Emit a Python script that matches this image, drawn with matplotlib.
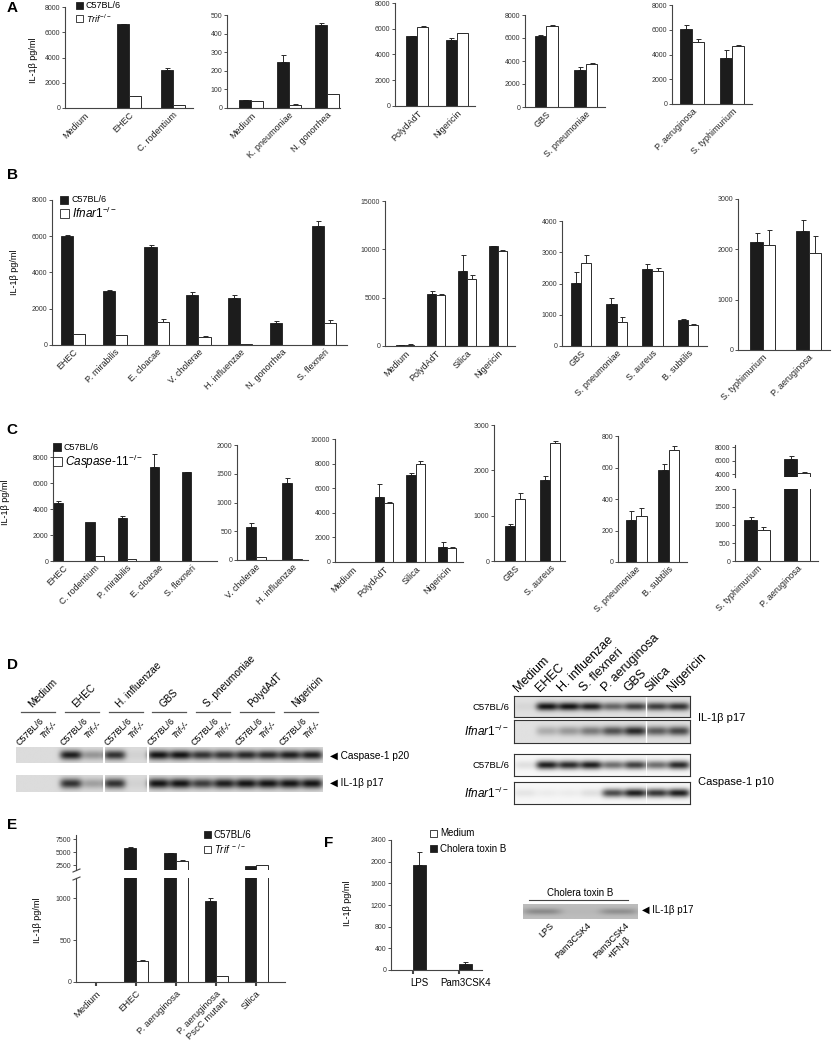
import numpy as np
import matplotlib
matplotlib.use('Agg')
import matplotlib.pyplot as plt
from matplotlib.patches import Rectangle
from matplotlib.lines import Line2D

plt.rcParams['font.family'] = ['Liberation Sans', 'DejaVu Sans']
plt.rcParams['mathtext.fontset'] = 'custom'
plt.rcParams['mathtext.rm'] = 'Liberation Sans'
plt.rcParams['mathtext.it'] = 'Liberation Sans:italic'

# ---------------- DATA ----------------
# Panel A (C57BL/6 black, Trif-/- white)
A1_cats = ['Medium', 'EHEC', 'C. rodentium']
A1_b = [30, 6650, 3000]; A1_be = [0, 30, 150]
A1_w = [30, 950, 230];   A1_we = [0, 30, 40]
A2_cats = ['Medium', 'K. pneumoniae', 'N. gonorrhea']
A2_b = [42, 245, 448]; A2_be = [3, 40, 8]
A2_w = [37, 18, 73];   A2_we = [2, 4, 2]
A3_cats = ['PolydAdT', 'Nigericin']
A3_b = [5400, 5100]; A3_be = [60, 180]
A3_w = [6150, 5650]; A3_we = [40, 30]
A4_cats = ['GBS', 'S. pneumoniae']
A4_b = [6150, 3250]; A4_be = [150, 200]
A4_w = [7050, 3750]; A4_we = [40, 100]
A5_cats = ['P. aeruginosa', 'S. typhimurium']
A5_b = [6050, 3750]; A5_be = [350, 650]
A5_w = [5050, 4700]; A5_we = [180, 50]

# Panel B (C57BL/6 black, Ifnar1-/- white)
B1_cats = ['EHEC', 'P. mirabilis', 'E. cloacae', 'V. cholerae', 'H. influenzae', 'N. gonorrhea', 'S. flexneri']
B1_b = [6020, 2980, 5410, 2750, 2620, 1230, 6570]; B1_be = [40, 60, 120, 200, 120, 120, 250]
B1_w = [590, 530, 1280, 440, 30, 0, 1190];        B1_we = [10, 10, 150, 30, 5, 0, 170]
B2_cats = ['Medium', 'PolydAdT', 'Silica', 'Nigericin']
B2_b = [100, 5400, 7750, 10300]; B2_be = [20, 340, 1700, 60]
B2_w = [150, 5300, 6950, 9800];  B2_we = [20, 60, 400, 100]
B3_cats = ['GBS', 'S. pneumoniae', 'S. aureus', 'B. subtilis']
B3_b = [2020, 1350, 2450, 840]; B3_be = [350, 200, 160, 20]
B3_w = [2650, 760, 2400, 670];  B3_we = [250, 170, 100, 20]
B4_cats = ['S. typhimurium', 'P. aeruginosa']
B4_b = [2150, 2360]; B4_be = [180, 220]
B4_w = [2080, 1930]; B4_we = [310, 330]

# Panel C (C57BL/6 black, Caspase-11-/- white)
C1_cats = ['EHEC', 'C. rodentium', 'P. mirabilis', 'E. cloacae', 'S. flexneri']
C1_b = [4450, 2980, 3300, 7200, 6830]; C1_be = [200, 0, 200, 1000, 40]
C1_w = [0, 420, 120, 0, 0];            C1_we = [0, 0, 0, 0, 0]
C2_cats = ['V. cholerae', 'H. influenzae']
C2_b = [575, 1340]; C2_be = [60, 90]
C2_w = [45, 15];    C2_we = [5, 3]
C3_cats = ['Medium', 'PolydAdT', 'Silica', 'Nigericin']
C3_b = [0, 5300, 7100, 1220]; C3_be = [0, 1050, 100, 400]
C3_w = [0, 4830, 7950, 1140]; C3_we = [0, 80, 300, 70]
C4_cats = ['GBS', 'S. aureus']
C4_b = [770, 1780];  C4_be = [40, 100]
C4_w = [1370, 2600]; C4_we = [130, 40]
C5_cats = ['S. pneumoniae', 'B. subtilis']
C5_b = [265, 585]; C5_be = [60, 40]
C5_w = [292, 712]; C5_we = [50, 25]
C6_cats = ['S. typhimurium', 'P. aeruginosa']
C6_b = [1135, 6300]; C6_be = [85, 350]
C6_w = [870, 4250];  C6_we = [80, 50]

# Panel D blots (band intensities, 0..1)
D_groups = ['Medium', 'EHEC', 'H. influenzae', 'GBS', 'S. pneumoniae', 'PolydAdT', 'Nigericin']
D_casp_p20 = [0, 0, 0.95, 0.35, 0.85, 0.05, 1, 1, 0.85, 0.85, 0.9, 0.9, 0.95, 0.95]
D_il1b_p17 = [0, 0, 0.85, 0.3, 0.85, 0.05, 1, 1, 0.8, 0.95, 1, 1, 1, 1]
D2_lanes = ['Medium', 'EHEC', 'H. influenzae', 'S. flexneri', 'P. aeruginosa', 'GBS', 'Silica', 'Nigericin']
D2_il1b_wt = [0.05, 1, 1, 0.95, 0.6, 0.8, 0.8, 0.85]
D2_il1b_ko = [0.0, 0.25, 0.35, 0.5, 0.7, 0.9, 0.65, 0.75]
D2_casp_wt = [0.1, 0.95, 0.9, 0.95, 0.6, 0.8, 0.6, 0.9]
D2_casp_ko = [0.08, 0.05, 0.05, 0.1, 0.75, 0.95, 0.85, 0.95]

# Panel E (C57BL/6 black, Trif-/- white)
E_cats = ['Medium', 'EHEC', 'P. aeruginosa', 'P. aeruginosa\nPscC mutant', 'Silica']
E_b = [0, 5850, 4750, 960, 2300]; E_be = [0, 60, 80, 40, 0]
E_w = [0, 255, 3250, 72, 2480];   E_we = [0, 10, 150, 0, 0]

# Panel F (Medium white, Cholera toxin B black)
F_cats = ['LPS', 'Pam3CSK4']
F_med = [0, 0];     F_med_e = [0, 0]
F_ctb = [1940, 110]; F_ctb_e = [230, 45]
F_blot_lanes = ['LPS', 'Pam3CSK4', 'Pam3CSK4\n+IFN-β']
F_blot = [0.5, 0.05, 0.45]

# ---------------- FIGURE ----------------
W, H = 832, 1050
fig = plt.figure(figsize=(W / 100, H / 100), dpi=100)
BLACK = '#1c1c1c'
EDGE = '#2a2a2a'
SP = '#444444'


def fx(x):
    return x / W


def fy(y):
    return 1 - y / H


def px_ax(x0, y0, x1, y1):
    ax = fig.add_axes([x0 / W, 1 - y1 / H, (x1 - x0) / W, (y1 - y0) / H])
    ax.patch.set_alpha(0)
    return ax


def draw_bars(ax, black, berr, white, werr, w, align='side'):
    x = np.arange(len(black))
    if align == 'side':
        xb, xw = x - w / 2, x + w / 2
    else:  # white left of center, black right of center
        xb, xw = x + w / 2, x - w / 2
    ax.bar(xb, black, w, color=BLACK, edgecolor=BLACK, lw=0.6, zorder=2)
    ax.bar(xw, white, w, color='white', edgecolor=EDGE, lw=0.7, zorder=2)
    for xs, vals, errs in ((xb, black, berr), (xw, white, werr)):
        for xi, v, e in zip(xs, vals, errs):
            if e > 0:
                ax.errorbar(xi, v, yerr=[[0], [e]], fmt='none', ecolor=EDGE,
                            elinewidth=0.7, capsize=1.8, capthick=0.7, zorder=1)


def style_ax(ax, ylim, yticks, xlim, hide_bottom=False):
    ax.set_xlim(xlim)
    ax.set_ylim(ylim)
    ax.set_yticks(yticks)
    ax.set_yticklabels([str(t) for t in yticks])
    ax.tick_params(axis='y', length=2, width=0.6, pad=1.5, labelsize=5, colors='#333333')
    ax.spines['top'].set_visible(False)
    ax.spines['right'].set_visible(False)
    for s in ('left', 'bottom'):
        ax.spines[s].set_linewidth(0.8)
        ax.spines[s].set_color(SP)
    if hide_bottom:
        ax.spines['bottom'].set_visible(False)
        ax.set_xticks([])


def set_cats(ax, cats, fs=6.5, length=0, width=0.6, pad=2):
    ax.set_xticks(np.arange(len(cats)))
    ax.set_xticklabels(cats, rotation=45, ha='right', rotation_mode='anchor', fontsize=fs)
    ax.tick_params(axis='x', length=length, width=width, pad=pad, colors=SP, labelcolor='#222222')


def bar_panel(box, cats, b, be, w_, we, ylim, yticks, xlim, w):
    ax = px_ax(*box)
    draw_bars(ax, b, be, w_, we, w)
    style_ax(ax, ylim, yticks, xlim)
    set_cats(ax, cats)
    return ax


def legend_sq(x, y, color, label, s=7, fs=6.5):
    fig.add_artist(Rectangle((fx(x), fy(y + s)), s / W, s / H, transform=fig.transFigure,
                             facecolor=color, edgecolor='#222222', lw=0.6))
    fig.text(fx(x + s + 3), fy(y + s / 2), label, fontsize=fs, va='center', ha='left')


def ylab(x, y, fs=6.5):
    fig.text(fx(x), fy(y), 'IL-1β pg/ml', rotation=90, fontsize=fs, ha='center', va='center')


def panel_letter(x, y, s):
    fig.text(fx(x), fy(y), s, fontsize=11, fontweight='bold', ha='center', va='center')


def blot(ax, vals, bg, dark=0.08, sx=0.5, sy=0.24, yc=0.5, border=False):
    n = len(vals)
    xs = np.linspace(-0.5, n - 0.5, 60 * n)
    ys = np.linspace(0, 1, 50)
    X, Y = np.meshgrid(xs, ys)
    img = np.full_like(X, bg)
    for k, v in enumerate(vals):
        img -= v * (bg - dark) * np.exp(-np.abs((X - k) / sx) ** 4) * np.exp(-((Y - yc) / sy) ** 2)
    ax.imshow(np.clip(img, 0, 1), cmap='gray', vmin=0, vmax=1, extent=(-0.5, n - 0.5, 0, 1),
              aspect='auto', interpolation='bilinear')
    ax.set_xticks([])
    ax.set_yticks([])
    for s in ax.spines.values():
        s.set_visible(border)
        s.set_linewidth(0.8)
        s.set_color('#333333')


# ---------------- PANEL A ----------------
panel_letter(12, 8, 'A')
bar_panel((65, 7, 193, 108), A1_cats, A1_b, A1_be, A1_w, A1_we, (0, 8000), [0, 2000, 4000, 6000, 8000], (-0.43, 2.45), 0.27)
bar_panel((227, 15, 340, 108), A2_cats, A2_b, A2_be, A2_w, A2_we, (0, 500), [0, 100, 200, 300, 400, 500], (-0.63, 2.34), 0.32)
bar_panel((395, 3, 475, 106), A3_cats, A3_b, A3_be, A3_w, A3_we, (0, 8000), [0, 2000, 4000, 6000, 8000], (-0.56, 1.46), 0.28)
bar_panel((525, 15, 605, 107), A4_cats, A4_b, A4_be, A4_w, A4_we, (0, 8000), [0, 2000, 4000, 6000, 8000], (-0.53, 1.48), 0.29)
bar_panel((672, 5, 752, 104), A5_cats, A5_b, A5_be, A5_w, A5_we, (0, 8000), [0, 2000, 4000, 6000, 8000], (-0.5, 1.5), 0.31)
ylab(33, 60)
legend_sq(76, 2, BLACK, 'C57BL/6')
legend_sq(76, 15, 'white', r'$\mathit{Trif}^{-/-}$')

# ---------------- PANEL B ----------------
panel_letter(12, 175, 'B')
bar_panel((52, 200, 347, 345), B1_cats, B1_b, B1_be, B1_w, B1_we, (0, 8000), [0, 2000, 4000, 6000, 8000], (-0.5, 6.55), 0.29)
bar_panel((385, 201, 515, 346), B2_cats, B2_b, B2_be, B2_w, B2_we, (0, 15000), [0, 5000, 10000, 15000], (-0.65, 3.55), 0.29)
bar_panel((562, 221, 707, 346), B3_cats, B3_b, B3_be, B3_w, B3_we, (0, 4000), [0, 1000, 2000, 3000, 4000], (-0.53, 3.53), 0.29)
bar_panel((738, 199, 830, 350), B4_cats, B4_b, B4_be, B4_w, B4_we, (0, 3000), [0, 1000, 2000, 3000], (-0.54, 1.46), 0.27)
ylab(15, 272)
legend_sq(60, 196, BLACK, 'C57BL/6', s=8)
legend_sq(60, 209, 'white', r'$\mathit{Ifnar1}^{-/-}$', s=9, fs=8.5)

# ---------------- PANEL C ----------------
panel_letter(12, 430, 'C')
bar_panel((53, 450, 217, 561), C1_cats, C1_b, C1_be, C1_w, C1_we, (0, 8540), [0, 2000, 4000, 6000, 8000], (-0.3, 4.8), 0.29)
bar_panel((237, 445, 308, 560), C2_cats, C2_b, C2_be, C2_w, C2_we, (0, 2000), [0, 500, 1000, 1500, 2000], (-0.53, 1.44), 0.28)
bar_panel((335, 439, 463, 562), C3_cats, C3_b, C3_be, C3_w, C3_we, (0, 10000), [0, 2000, 4000, 6000, 8000, 10000], (-0.55, 3.5), 0.29)
bar_panel((494, 425, 565, 561), C4_cats, C4_b, C4_be, C4_w, C4_we, (0, 3000), [0, 1000, 2000, 3000], (-0.6, 1.43), 0.29)
bar_panel((618, 436, 687, 562), C5_cats, C5_b, C5_be, C5_w, C5_we, (0, 800), [0, 200, 400, 600, 800], (-0.55, 1.55), 0.32)
# broken axis C6
axu = px_ax(735, 445, 818, 477)
draw_bars(axu, C6_b, C6_be, C6_w, C6_we, 0.32)
style_ax(axu, (3600, 8300), [4000, 6000, 8000], (-0.55, 1.52), hide_bottom=True)
axl = px_ax(735, 489, 818, 561)
draw_bars(axl, C6_b, C6_be, C6_w, C6_we, 0.32)
style_ax(axl, (0, 2000), [0, 500, 1000, 1500, 2000], (-0.55, 1.52))
set_cats(axl, C6_cats)
ylab(6, 502)
legend_sq(53, 443, BLACK, 'C57BL/6', s=8)
legend_sq(53, 457, 'white', r'$\mathit{Caspase}$-$\mathit{11}^{-/-}$', s=9, fs=8.5)

# ---------------- PANEL D ----------------
panel_letter(12, 665, 'D')
lane0, lanew = 27.0, 21.9
ax = px_ax(16, 747, 323, 763)
blot(ax, D_casp_p20, bg=0.86, sy=0.3)
for s in (3.5, 5.5):
    ax.axvline(s, color='white', lw=1.5)
ax = px_ax(16, 775, 323, 792)
blot(ax, D_il1b_p17, bg=0.86, sy=0.3)
for s in (3.5, 5.5):
    ax.axvline(s, color='white', lw=1.5)
for g, name in enumerate(D_groups):
    c = lane0 + lanew * (2 * g + 0.5)
    fig.add_artist(Line2D([fx(c - 17), fx(c + 17)], [fy(712), fy(712)], transform=fig.transFigure,
                          color='#555555', lw=0.9))
    fig.text(fx(c - 4), fy(709), name, rotation=45, rotation_mode='anchor', ha='left', va='bottom', fontsize=7.3)
    fig.text(fx(lane0 + lanew * 2 * g - 6), fy(747), 'C57BL/6', rotation=45, rotation_mode='anchor',
             ha='left', va='bottom', fontsize=6.5)
    fig.text(fx(lane0 + lanew * (2 * g + 1) - 4), fy(740), 'Trif-/-', rotation=45, rotation_mode='anchor',
             ha='left', va='bottom', fontsize=6.3, style='italic')
fig.text(fx(330), fy(756), '◀ Caspase-1 p20', fontsize=7.3, va='center', ha='left')
fig.text(fx(330), fy(783), '◀ IL-1β p17', fontsize=7.3, va='center', ha='left')

# right blot
strips = [((514, 696, 690, 717), D2_il1b_wt, 0.88), ((514, 720, 690, 743), D2_il1b_ko, 0.88),
          ((514, 754, 690, 776), D2_casp_wt, 0.97), ((514, 782, 690, 804), D2_casp_ko, 0.97)]
for i, (box, vals, bg) in enumerate(strips):
    ax = px_ax(*box)
    blot(ax, vals, bg=bg, border=True, sy=0.2)
    ax.axvline(5.5, color='white', lw=1.0 if i < 2 else 0.6)
for k, name in enumerate(D2_lanes):
    fig.text(fx(525 + 22 * k - 5), fy(694), name, rotation=45, rotation_mode='anchor',
             ha='left', va='bottom', fontsize=9)
fig.text(fx(509), fy(707), 'C57BL/6', fontsize=6.8, ha='right', va='center')
fig.text(fx(509), fy(731), r'$\mathit{Ifnar1}^{-/-}$', fontsize=8.5, ha='right', va='center')
fig.text(fx(509), fy(765), 'C57BL/6', fontsize=6.8, ha='right', va='center')
fig.text(fx(509), fy(793), r'$\mathit{Ifnar1}^{-/-}$', fontsize=8.5, ha='right', va='center')
fig.text(fx(698), fy(718), 'IL-1β p17', fontsize=8, ha='left', va='center')
fig.text(fx(698), fy(782), 'Caspase-1 p10', fontsize=8, ha='left', va='center')

# ---------------- PANEL E ----------------
panel_letter(12, 825, 'E')
axu = px_ax(76, 835, 285, 870)
draw_bars(axu, E_b, E_be, E_w, E_we, 0.29)
style_ax(axu, (1540, 8270), [2500, 5000, 7500], (-0.5, 4.72), hide_bottom=True)
axl = px_ax(76, 878, 285, 982)
draw_bars(axl, E_b, E_be, E_w, E_we, 0.29)
style_ax(axl, (0, 1240), [0, 500, 1000], (-0.5, 4.72))
set_cats(axl, E_cats, fs=6.8, length=3, width=1.5, pad=2)
for yy in (872, 880):
    fig.add_artist(Line2D([fx(73), fx(80)], [fy(yy), fy(yy - 3)], transform=fig.transFigure, color=SP, lw=0.8))
ylab(38, 920)
legend_sq(204, 831, BLACK, 'C57BL/6', fs=7)
legend_sq(204, 846, 'white', r'$\mathit{Trif}^{\ -/-}$', fs=7)

# ---------------- PANEL F ----------------
panel_letter(329, 843, 'F')
ax = px_ax(391, 840, 482, 970)
draw_bars(ax, F_ctb, F_ctb_e, F_med, F_med_e, 0.28, align='right')
style_ax(ax, (0, 2400), [0, 400, 800, 1200, 1600, 2000, 2400], (-0.48, 1.5))
ax.set_xticks(np.arange(len(F_cats)))
ax.set_xticklabels([])
ax.tick_params(axis='x', length=3, width=1.5, colors=SP)
for i, c in enumerate(F_cats):
    ax.text(i + 0.14, -0.06, c, transform=ax.get_xaxis_transform(), ha='center', va='top', fontsize=7)
ylab(348, 903)
legend_sq(430, 830, 'white', 'Medium', fs=7)
legend_sq(430, 845, BLACK, 'Cholera toxin B', fs=7)

ax = px_ax(523, 904, 638, 919)
blot(ax, F_blot, bg=0.74, dark=0.35, sy=0.22)
fig.add_artist(Line2D([fx(529), fx(628)], [fy(900), fy(900)], transform=fig.transFigure, color='#444444', lw=0.8))
fig.text(fx(580), fy(893), 'Cholera toxin B', fontsize=7, ha='center', va='center')
fig.text(fx(642), fy(910), '◀ IL-1β p17', fontsize=7, ha='left', va='center')
for k, name in enumerate(F_blot_lanes):
    fig.text(fx(542 + 38 * k + 7), fy(921), name, rotation=45, rotation_mode='anchor',
             ha='right', va='top', fontsize=6.5, multialignment='center')

fig.savefig('out.png', dpi=100)
